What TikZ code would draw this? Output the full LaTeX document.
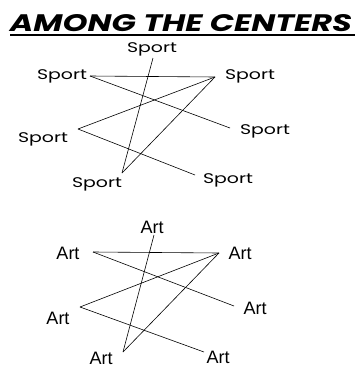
\documentclass[tikz,border=0pt]{standalone}
\usepackage{fontspec}
\usepackage{graphicx}
\newfontfamily\sportfont{Poppins}
\newfontfamily\artfont{Liberation Sans}
\begin{document}
\begin{tikzpicture}[x=1pt, y=-1pt, line width=0.6pt,
    lbl/.style={inner sep=0pt, font=\sportfont\fontsize{14}{14}\selectfont},
    artlbl/.style={inner sep=0pt, font=\artfont\fontsize{18}{18}\selectfont}]
    \useasboundingbox (0,0) rectangle (357,367);
    % title
    \node[inner sep=0pt] (title) at (181,23.5) {\resizebox{342pt}{17pt}{\sportfont\bfseries\itshape AMONG THE CENTERS}};
    \draw[line width=1.2pt] (10,35) -- (355,35);
    % sport
    \node[lbl] (sT) at (152,49) {\scalebox{1.35}[1]{Sport}};
    \node[lbl] (sL) at (62,76) {\scalebox{1.35}[1]{Sport}};
    \node[lbl] (sR) at (250,76) {\scalebox{1.35}[1]{Sport}};
    \node[lbl] (sM) at (265,131) {\scalebox{1.35}[1]{Sport}};
    \node[lbl] (sW) at (43,139) {\scalebox{1.35}[1]{Sport}};
    \node[lbl] (sB) at (97,184) {\scalebox{1.35}[1]{Sport}};
    \node[lbl] (sE) at (228,180) {\scalebox{1.35}[1]{Sport}};
    \coordinate (pT) at (153,58);
    \coordinate (pL) at (90,76);
    \coordinate (pR) at (215,77);
    \coordinate (pM) at (230,128);
    \coordinate (pW) at (78,129);
    \coordinate (pB) at (122,173);
    \coordinate (pE) at (195,175);
    \draw (pT) -- (pB);
    \draw (pL) -- (pR);
    \draw (pL) -- (pM);
    \draw (pR) -- (pW);
    \draw (pR) -- (pB);
    \draw (pW) -- (pE);
    % art
    \node[artlbl] (aT) at (152,227) {Art};
    \node[artlbl] (aL) at (68,253) {Art};
    \node[artlbl] (aR) at (240,253) {Art};
    \node[artlbl] (aM) at (255,308) {Art};
    \node[artlbl] (aW) at (58,318) {Art};
    \node[artlbl] (aB) at (101,358.5) {Art};
    \node[artlbl] (aE) at (218,357) {Art};
    \coordinate (qT) at (154,235);
    \coordinate (qL) at (93,252);
    \coordinate (qR) at (219,253);
    \coordinate (qM) at (234,306);
    \coordinate (qW) at (80,307);
    \coordinate (qB) at (123,352);
    \coordinate (qE) at (204,352);
    \draw (qT) -- (qB);
    \draw (qL) -- (qR);
    \draw (qL) -- (qM);
    \draw (qR) -- (qW);
    \draw (qR) -- (qB);
    \draw (qW) -- (qE);
\end{tikzpicture}
\end{document}
